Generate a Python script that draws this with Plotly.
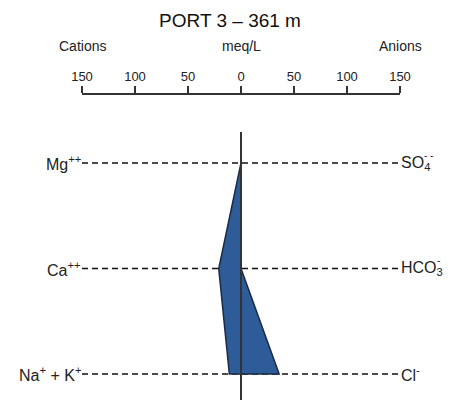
import plotly.graph_objects as go

# Data (meq/L)
cation_labels = ["Mg<sup>++</sup>", "Ca<sup>++</sup>", "Na<sup>+</sup> + K<sup>+</sup>"]
anion_base = ["SO", "HCO", "Cl<sup>-</sup>"]
anion_sub = ["4", "3", ""]
anion_sup = ["- -", "-", ""]
cations = [0, 21, 11]      # Mg, Ca, Na+K
anions = [0, 0, 36]        # SO4, HCO3, Cl
tick_vals = [-150, -100, -50, 0, 50, 100, 150]
tick_text = ["150", "100", "50", "0", "50", "100", "150"]
levels = [0, 1, 2]
scale_max = 150

FONT = "Liberation Sans, Arial, sans-serif"
LBL = 16
# approximate glyph widths (Liberation Sans, per em) for stacking sub/superscripts
W = {"S": 0.667, "O": 0.778, "H": 0.722, "C": 0.722, "l": 0.222}

fig = go.Figure()

# dashed level lines
for lv in levels:
    fig.add_trace(go.Scatter(x=[-scale_max, scale_max], y=[lv, lv], mode="lines",
                             line=dict(color="#111111", width=1.6, dash="6px,4px"),
                             hoverinfo="skip", showlegend=False))

# stiff polygon
px = [-c for c in cations] + anions[::-1] + [-cations[0]]
py = levels + levels[::-1] + [levels[0]]
fig.add_trace(go.Scatter(x=px, y=py, mode="lines", fill="toself",
                         fillcolor="#2e5c98", line=dict(color="#1b2b45", width=1.5),
                         hoverinfo="skip", showlegend=False))

# center line
fig.add_trace(go.Scatter(x=[0, 0], y=[-0.294, 2.246], mode="lines",
                         line=dict(color="#333333", width=2),
                         hoverinfo="skip", showlegend=False))

annots = []
for lv, lab in zip(levels, cation_labels):
    annots.append(dict(x=-scale_max, y=lv, xref="x", yref="y", text=lab, showarrow=False,
                       xanchor="right", yanchor="middle", xshift=1,
                       font=dict(size=LBL, color="#222222", family=FONT)))
for lv, base, sub, sup in zip(levels, anion_base, anion_sub, anion_sup):
    txt = base + (f"<sub>{sub}</sub>" if sub else "")
    annots.append(dict(x=scale_max, y=lv, xref="x", yref="y", text=txt, showarrow=False,
                       xanchor="left", yanchor="middle", xshift=-1,
                       font=dict(size=LBL, color="#222222", family=FONT)))
    if sup:
        bw = sum(W.get(ch, 0.6) for ch in base) * LBL
        annots.append(dict(x=scale_max, y=lv, xref="x", yref="y", text=sup, showarrow=False,
                           xanchor="left", yanchor="middle", xshift=bw - 1, yshift=8,
                           font=dict(size=10, color="#222222", family=FONT)))

H = 306.0
def py_(p):
    return (400 - p) / H

annots += [
    dict(x=-scale_max, y=py_(46), xref="x", yref="paper", text="Cations", showarrow=False,
         xanchor="center", yanchor="middle", font=dict(size=14, color="#222222", family=FONT)),
    dict(x=0, y=py_(46), xref="x", yref="paper", text="meq/L", showarrow=False,
         xanchor="center", yanchor="middle", font=dict(size=14, color="#222222", family=FONT)),
    dict(x=scale_max, y=py_(46), xref="x", yref="paper", text="Anions", showarrow=False,
         xanchor="center", yanchor="middle", font=dict(size=14, color="#222222", family=FONT)),
]

fig.update_layout(
    width=451, height=402,
    margin=dict(l=82, r=51, t=94, b=2),
    paper_bgcolor="white", plot_bgcolor="white",
    title=dict(text="PORT 3 – 361 m", x=230 / 451, xanchor="center",
               y=1 - 20 / 402, yanchor="middle",
               font=dict(size=19, color="#111111", family=FONT)),
    xaxis=dict(range=[-scale_max, scale_max], side="top", anchor="free", position=1,
               tickvals=tick_vals, ticktext=tick_text, ticks="outside", ticklen=7,
               tickwidth=2, tickcolor="#333333", showline=True, linecolor="#333333",
               linewidth=2, showgrid=False, zeroline=False,
               tickfont=dict(size=13, color="#222222", family=FONT)),
    yaxis=dict(range=[2.246, -0.294], domain=[0, 268 / 306], visible=False,
               showgrid=False, zeroline=False),
    annotations=annots,
    showlegend=False,
)

fig.write_html("out.html")
